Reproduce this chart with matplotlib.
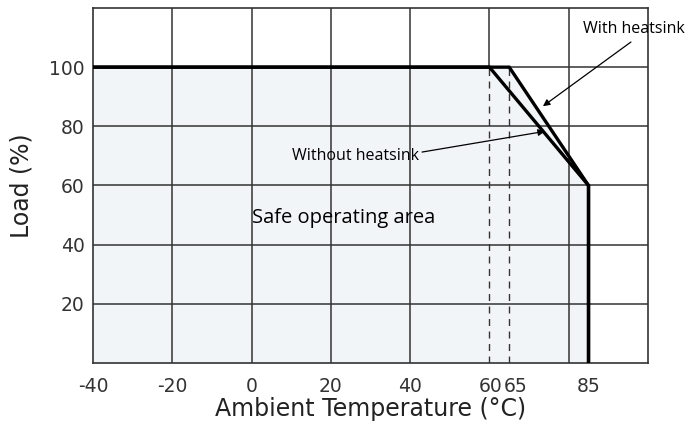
import matplotlib.pyplot as plt
from matplotlib.transforms import ScaledTranslation

# derating curves
temp_without = [-40, 60, 85, 85]
load_without = [100, 100, 60, 0]
temp_with = [-40, 65, 85, 85]
load_with = [100, 100, 60, 0]

x_ticks = [-40, -20, 0, 20, 40, 60, 65, 85]
y_ticks = [20, 40, 60, 80, 100]
x_grid = [-20, 0, 20, 40, 80]
y_grid = [20, 40, 60, 80, 100]
dashed_at = [60, 65]

fig = plt.figure(figsize=(6.87, 4.34), dpi=100)
ax = fig.add_axes([0.1354, 0.1636, 0.8078, 0.818])
ax.set_xlim(-40, 100)
ax.set_ylim(0, 120)

grid_c = "#333333"
for x in x_grid:
    ax.axvline(x, color=grid_c, lw=1.1, zorder=1)
ax.plot([60, 60], [100, 120], color=grid_c, lw=1.1, zorder=1)
for y in y_grid:
    ax.axhline(y, color=grid_c, lw=1.1, zorder=1)
for x in dashed_at:
    ax.plot([x, x], [0, 100], color=grid_c, lw=1.0, ls=(0, (5, 4)), zorder=2)

ax.fill_between(temp_with, load_with, 0, color="#f2f5f7", zorder=0, lw=0)
ax.plot(temp_without, load_without, color="black", lw=2.4, zorder=3, solid_joinstyle="miter")
ax.plot(temp_with, load_with, color="black", lw=2.4, zorder=3, solid_joinstyle="miter")

for s in ax.spines.values():
    s.set_color(grid_c)
    s.set_linewidth(1.2)

ax.set_xticks(x_ticks)
ax.set_yticks(y_ticks)
ax.set_xticklabels([str(t) for t in x_ticks])
ax.tick_params(axis="both", length=0, labelsize=13.5, colors="#333333")
ax.tick_params(axis="x", pad=10)
ax.tick_params(axis="y", pad=6)

# nudge the crowded 60 / 65 labels like in the original ("6065")
for lab in ax.get_xticklabels():
    if lab.get_text() == "60":
        lab.set_transform(lab.get_transform() + ScaledTranslation(0.7 / 72, 0, fig.dpi_scale_trans))
    if lab.get_text() == "65":
        lab.set_transform(lab.get_transform() + ScaledTranslation(4.5 / 72, 0, fig.dpi_scale_trans))

ax.set_xlabel("Ambient Temperature (°C)", fontsize=17, color="#222222", labelpad=1)
ax.set_ylabel("Load (%)", fontsize=17, color="#222222", labelpad=11)

ax.text(0, 49, "Safe operating area", fontsize=14.5, family="Open Sans",
        va="center", ha="left", zorder=4)

ax.text(42.3, 69.8, "Without heatsink", fontsize=11.5, family="Open Sans",
        ha="right", va="center", zorder=4)
ax.annotate("", xy=(74, 78.3), xytext=(43, 71.3),
            arrowprops=dict(arrowstyle="-|>", color="black", lw=0.9,
                            mutation_scale=10, shrinkA=0, shrinkB=0), zorder=4)

ax.text(96.5, 113, "With heatsink", fontsize=11.5, family="Open Sans",
        ha="center", va="center", zorder=4, clip_on=False)
ax.annotate("", xy=(73.5, 86.8), xytext=(95.7, 108.5),
            arrowprops=dict(arrowstyle="-|>", color="black", lw=0.9,
                            mutation_scale=10, shrinkA=0, shrinkB=0), zorder=4)

fig.savefig("out.png", dpi=100)
